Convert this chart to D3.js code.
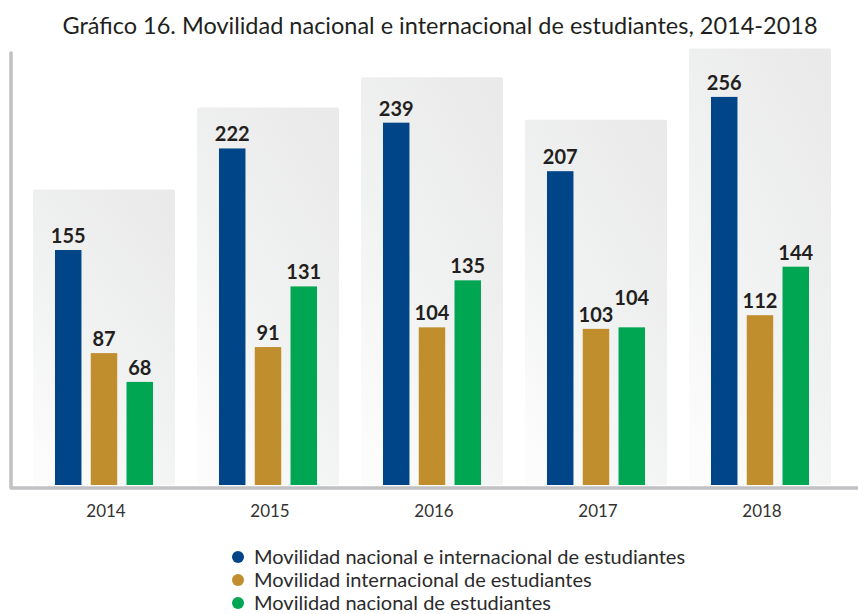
<!DOCTYPE html>
<html>
<head>
<meta charset="utf-8">
<script src="https://cdn.jsdelivr.net/npm/d3@7"></script>
<style>
  body { margin: 0; background: #fff; }
  svg { font-family: Lato, 'Open Sans', sans-serif; }
</style>
</head>
<body>
<div id="chart"></div>
<script>
const years = ['2014', '2015', '2016', '2017', '2018'];
const seriesNames = [
  'Movilidad nacional e internacional de estudiantes',
  'Movilidad internacional de estudiantes',
  'Movilidad nacional de estudiantes'
];
const nacionalEInternacional = [155, 222, 239, 207, 256];
const internacional = [87, 91, 104, 103, 112];
const nacional = [68, 131, 135, 104, 144];
// height of the grey panel behind each year, in data units
const panelTop = [195, 249, 269, 241, 288];
const colors = ['#004587', '#c18e2e', '#00a651'];

const width = 858, height = 614;
const baseY = 485;

const svg = d3.select('#chart').append('svg')
  .attr('width', width)
  .attr('height', height);

const defs = svg.append('defs');
const grad = defs.append('linearGradient')
  .attr('id', 'panelGrad')
  .attr('x1', '0.8').attr('y1', '0')
  .attr('x2', '0.2').attr('y2', '1');
grad.append('stop').attr('offset', '0%').attr('stop-color', '#eaeaea');
grad.append('stop').attr('offset', '55%').attr('stop-color', '#f1f2f2');
grad.append('stop').attr('offset', '100%').attr('stop-color', '#fcfcfc');

const x = d3.scaleBand()
  .domain(years)
  .range([22, 842])
  .paddingInner(0.134)
  .paddingOuter(0.067);

const x1 = d3.scaleBand()
  .domain(d3.range(seriesNames.length))
  .range([22, 120])
  .paddingInner(0.26);

const y = d3.scaleLinear()
  .domain([0, 300])
  .range([baseY, baseY - 300 * 1.516]);

// title
svg.append('text')
  .attr('x', 440)
  .attr('y', 34)
  .attr('text-anchor', 'middle')
  .attr('font-size', 23.5)
  .attr('fill', '#231f20')
  .text('Gráfico 16. Movilidad nacional e internacional de estudiantes, 2014-2018');

// panels
svg.selectAll('.panel')
  .data(years)
  .enter().append('rect')
  .attr('class', 'panel')
  .attr('x', d => x(d))
  .attr('y', (d, i) => y(panelTop[i]))
  .attr('width', x.bandwidth())
  .attr('height', (d, i) => baseY - y(panelTop[i]))
  .attr('rx', 2)
  .attr('fill', 'url(#panelGrad)');

const series = [nacionalEInternacional, internacional, nacional];

const groups = svg.selectAll('.group')
  .data(years)
  .enter().append('g')
  .attr('class', 'group')
  .attr('transform', d => `translate(${x(d)}, 0)`);

groups.selectAll('rect.bar')
  .data((d, i) => series.map((s, k) => ({k, v: s[i]})))
  .enter().append('rect')
  .attr('class', 'bar')
  .attr('x', d => x1(d.k))
  .attr('y', d => y(d.v))
  .attr('width', x1.bandwidth())
  .attr('height', d => baseY - y(d.v))
  .attr('fill', d => colors[d.k]);

// value labels, nudged up when they would collide with the neighbour
groups.each(function(year, i) {
  const g = d3.select(this);
  let prevY = null;
  series.forEach((s, k) => {
    let ly = y(s[i]) - 7;
    if (prevY !== null && Math.abs(ly - prevY) < 12) ly = prevY - 17;
    prevY = ly;
    g.append('text')
      .attr('x', x1(k) + x1.bandwidth() / 2)
      .attr('y', ly)
      .attr('text-anchor', 'middle')
      .attr('font-size', 20)
      .attr('font-weight', 'bold')
      .attr('fill', '#231f20')
      .text(s[i]);
  });
});

// axis lines
svg.append('path')
  .attr('d', `M11,53 L11,488 L858,488`)
  .attr('fill', 'none')
  .attr('stroke', '#c1c1c5')
  .attr('stroke-width', 3.5)
  .attr('stroke-linecap', 'round')
  .attr('stroke-linejoin', 'round');

// year labels
svg.selectAll('.year')
  .data(years)
  .enter().append('text')
  .attr('class', 'year')
  .attr('x', d => x(d) + x.bandwidth() / 2 + 2)
  .attr('y', 517)
  .attr('text-anchor', 'middle')
  .attr('font-size', 17)
  .attr('fill', '#333')
  .text(d => d);

// legend
const legend = svg.selectAll('.legend')
  .data(seriesNames)
  .enter().append('g')
  .attr('class', 'legend')
  .attr('transform', (d, i) => `translate(238, ${557 + i * 23})`);
legend.append('circle')
  .attr('r', 6)
  .attr('fill', (d, i) => colors[i]);
legend.append('text')
  .attr('x', 16)
  .attr('y', 7)
  .attr('font-size', 20)
  .attr('fill', '#2b2b2b')
  .text(d => d);
</script>
</body>
</html>
